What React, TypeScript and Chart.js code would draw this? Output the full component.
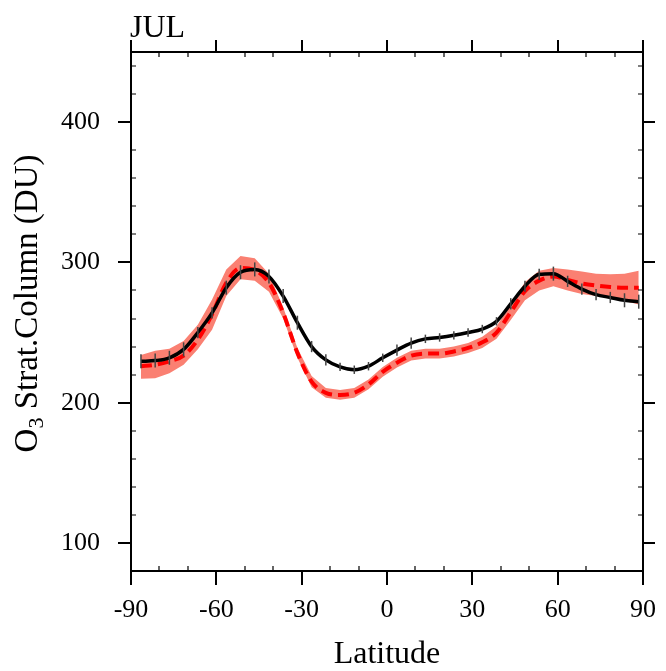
import React, { useEffect, useRef } from "react";
import { Chart, registerables } from "chart.js";

Chart.register(...registerables);

const lats = [-86.5, -81.5, -76.5, -71.5, -66.5, -61.5, -56.5, -51.5, -46.5, -41.5, -36.5, -31.5, -26.5, -21.5, -16.5, -11.5, -6.5, -1.5, 3.5, 8.5, 13.5, 18.5, 23.5, 28.5, 33.5, 38.5, 43.5, 48.5, 53.5, 58.5, 63.5, 68.5, 73.5, 78.5, 83.5, 88.5];

const obsMean = [229.5, 230, 232, 238, 250, 264, 282, 293, 295, 290, 276, 257, 240, 230.5, 225.5, 223.5, 226, 232, 237.5, 242.5, 245.5, 246.5, 248, 250, 252.5, 258, 270.5, 283, 291.5, 292, 286.5, 281, 277, 275, 273, 272];
const obsErr = [5, 5, 5, 5, 4, 4, 5, 5, 5, 5, 5, 5, 4, 4, 3, 3, 3, 3, 4, 4, 3, 3, 3, 3, 3, 3, 4, 4, 4, 5, 4, 4, 4, 4, 5, 5];

const modelMean = [226, 227, 229.5, 233.5, 245, 263, 285.5, 296, 294.5, 285.5, 264, 235.5, 215, 207, 205.5, 207, 213, 222, 228.5, 233.5, 235, 235, 236.5, 239, 243, 250, 264.5, 279.5, 287, 290, 287.5, 285, 283.5, 282.5, 282, 282];
const modelUpper = [234, 237, 238.5, 244, 255.5, 273.5, 295, 304.5, 303, 292, 268, 239, 219, 210.5, 209, 210.5, 216.5, 225.5, 232, 237, 238.5, 238.5, 240, 242.5, 247, 254.5, 270, 286, 294, 296, 295, 293.5, 292, 291.5, 292, 294];
const modelLower = [217, 217.5, 221, 227, 238, 252, 276, 288, 287, 279, 260, 232, 211, 203.5, 202, 203.5, 209.5, 218.5, 225, 230, 231.5, 231.5, 233, 235.5, 239, 245.5, 259, 273, 280, 283, 280, 277.5, 276, 275, 272.5, 270];

const xTicks = [-90, -60, -30, 0, 30, 60, 90];
const yTicks = [100, 200, 300, 400];
const panelTitle = "JUL";
const xTitle = "Latitude";

const FONT = "'Liberation Serif', 'DejaVu Serif', serif";

const pts = (vals: number[]) => lats.map((x, i) => ({ x, y: vals[i] }));

export default function App() {
  const ref = useRef<HTMLCanvasElement | null>(null);

  useEffect(() => {
    document.body.style.margin = "0";
    const canvas = ref.current;
    if (!canvas) return;

    const errorBars = {
      id: "errorBars",
      afterDatasetsDraw(chart: any) {
        const { ctx, scales } = chart;
        const x = scales.x, y = scales.y;
        ctx.save();
        ctx.strokeStyle = "#444";
        ctx.lineWidth = 1.5;
        lats.forEach((lat, i) => {
          const px = x.getPixelForValue(lat);
          ctx.beginPath();
          ctx.moveTo(px, y.getPixelForValue(obsMean[i] - obsErr[i]));
          ctx.lineTo(px, y.getPixelForValue(obsMean[i] + obsErr[i]));
          ctx.stroke();
        });
        ctx.restore();
      },
    };

    const frame = {
      id: "frame",
      afterDraw(chart: any) {
        const { ctx, chartArea: a, scales } = chart;
        const x = scales.x, y = scales.y;
        ctx.save();
        ctx.strokeStyle = "#000";
        ctx.lineWidth = 2;
        ctx.beginPath();
        ctx.moveTo(a.left, a.top);
        ctx.lineTo(a.right, a.top);
        ctx.lineTo(a.right, a.bottom);
        ctx.stroke();
        ctx.beginPath();
        xTicks.forEach((v) => {
          const px = Math.round(x.getPixelForValue(v));
          ctx.moveTo(px, a.top);
          ctx.lineTo(px, a.top - 12);
        });
        yTicks.forEach((v) => {
          const py = Math.round(y.getPixelForValue(v));
          ctx.moveTo(a.right, py);
          ctx.lineTo(a.right + 12, py);
        });
        ctx.stroke();
        ctx.lineWidth = 1.2;
        ctx.beginPath();
        for (let v = -80; v <= 80; v += 10) {
          if (v % 30 === 0) continue;
          const px = Math.round(x.getPixelForValue(v));
          ctx.moveTo(px, a.top);
          ctx.lineTo(px, a.top + 5);
          ctx.moveTo(px, a.bottom);
          ctx.lineTo(px, a.bottom - 5);
        }
        for (let v = 100; v <= 440; v += 20) {
          if (v % 100 === 0) continue;
          const py = Math.round(y.getPixelForValue(v));
          ctx.moveTo(a.left, py);
          ctx.lineTo(a.left + 5, py);
          ctx.moveTo(a.right, py);
          ctx.lineTo(a.right - 5, py);
        }
        ctx.stroke();

        // texts
        ctx.fillStyle = "#000";
        ctx.textBaseline = "alphabetic";
        ctx.font = `32px ${FONT}`;
        ctx.textAlign = "left";
        ctx.fillText(panelTitle, a.left - 1, 37);
        ctx.textAlign = "center";
        ctx.fillText(xTitle, (a.left + a.right) / 2, 663);

        // y title with subscript
        ctx.save();
        ctx.translate(37, (a.top + a.bottom) / 2 - 8);
        ctx.rotate(-Math.PI / 2);
        ctx.textAlign = "left";
        ctx.font = `33px ${FONT}`;
        const wO = ctx.measureText("O").width;
        const rest = " Strat.Column (DU)";
        const wR = ctx.measureText(rest).width;
        ctx.font = `22px ${FONT}`;
        const w3 = ctx.measureText("3").width;
        const total = wO + w3 + wR;
        let sx = -total / 2;
        ctx.font = `33px ${FONT}`;
        ctx.fillText("O", sx, 0);
        sx += wO;
        ctx.font = `22px ${FONT}`;
        ctx.fillText("3", sx, 6);
        sx += w3;
        ctx.font = `33px ${FONT}`;
        ctx.fillText(rest, sx, 0);
        ctx.restore();
        ctx.restore();
      },
    };

    const chart = new Chart(canvas, {
      type: "line",
      data: {
        datasets: [
          {
            data: pts(modelLower),
            borderWidth: 0,
            borderColor: "rgba(0,0,0,0)",
            pointRadius: 0,
            fill: false,
            tension: 0,
            order: 4,
          },
          {
            data: pts(modelUpper),
            borderWidth: 0,
            borderColor: "rgba(0,0,0,0)",
            backgroundColor: "rgb(250,128,114)",
            pointRadius: 0,
            fill: "-1",
            tension: 0,
            order: 3,
          },
          {
            data: pts(modelMean),
            borderColor: "rgb(255,0,0)",
            borderWidth: 4,
            borderDash: [11, 6],
            pointRadius: 0,
            fill: false,
            cubicInterpolationMode: "monotone",
            order: 2,
          },
          {
            data: pts(obsMean),
            borderColor: "#000",
            borderWidth: 3.5,
            pointRadius: 0,
            fill: false,
            cubicInterpolationMode: "monotone",
            order: 1,
          },
        ],
      },
      options: {
        responsive: false,
        animation: false,
        events: [],
        layout: { padding: { top: 52, right: 18, left: 0, bottom: 0 } },
        plugins: {
          legend: { display: false },
          tooltip: { enabled: false },
          title: { display: false },
        },
        scales: {
          x: {
            type: "linear",
            min: -90,
            max: 90,
            afterBuildTicks: (s: any) => {
              s.ticks = xTicks.map((v) => ({ value: v }));
            },
            afterFit: (s: any) => {
              s.height = 100;
            },
            ticks: {
              color: "#000",
              font: { family: FONT, size: 26 },
              padding: 10,
              maxRotation: 0,
              callback: (v: any) => String(v),
            },
            grid: {
              display: true,
              drawOnChartArea: false,
              drawTicks: true,
              tickLength: 14,
              color: "#000",
              lineWidth: 2,
            },
            border: { display: true, color: "#000", width: 2 },
          },
          y: {
            type: "linear",
            min: 80,
            max: 450,
            afterBuildTicks: (s: any) => {
              s.ticks = yTicks.map((v) => ({ value: v }));
            },
            afterFit: (s: any) => {
              s.width = 131;
            },
            ticks: {
              color: "#000",
              font: { family: FONT, size: 26 },
              padding: 18,
              callback: (v: any) => String(v),
            },
            grid: {
              display: true,
              drawOnChartArea: false,
              drawTicks: true,
              tickLength: 13,
              color: "#000",
              lineWidth: 2,
            },
            border: { display: true, color: "#000", width: 2 },
          },
        },
      },
      plugins: [errorBars, frame],
    } as any);

    return () => chart.destroy();
  }, []);

  return (
    <div style={{ width: 666, height: 671, background: "#fff" }}>
      <canvas ref={ref} width={666} height={671} style={{ display: "block", width: 666, height: 671 }} />
    </div>
  );
}
